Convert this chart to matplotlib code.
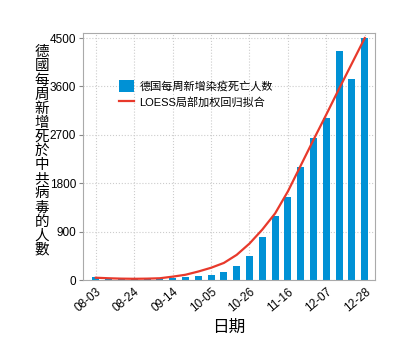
import numpy as np
import matplotlib.pyplot as plt

plt.rcParams['font.family'] = ['Liberation Sans', 'Noto Sans CJK TC', 'DejaVu Sans']

dates = ['08-03', '08-10', '08-17', '08-24', '08-31', '09-07', '09-14',
         '09-21', '09-28', '10-05', '10-12', '10-19', '10-26', '11-02',
         '11-09', '11-16', '11-23', '11-30', '12-07', '12-14', '12-21', '12-28']
deaths = [56, 30, 30, 30, 30, 30, 43, 65, 75, 90, 160, 260, 447, 807,
          1198, 1540, 2104, 2650, 3017, 4264, 3730, 4500]
loess = [45, 35, 28, 25, 28, 35, 65, 100, 160, 230, 320, 470, 680, 940,
         1240, 1650, 2130, 2610, 3080, 3560, 4030, 4500]

bar_label = '德国每周新增染疫死亡人数'
line_label = 'LOESS局部加权回归拟合'
ylabel = '德國每周新增死於中共病毒的人數'

fig = plt.figure(figsize=(4, 3.48), dpi=100)
ax = fig.add_axes([0.2075, 0.195, 0.73, 0.71])

x = np.arange(len(dates))
bars = ax.bar(x, deaths, width=0.55, color='#0091d5', label=bar_label, zorder=2)
line, = ax.plot(x, loess, color='#e8392b', lw=1.6, label=line_label, zorder=3)

ax.set_xlim(-1, 21.8)
ax.set_ylim(0, 4593)
ax.set_yticks(np.arange(0, 4501, 900))
ax.set_xticks(x[::3])
ax.set_xticklabels(dates[::3], rotation=40, ha='right', rotation_mode='anchor')
ax.tick_params(axis='x', labelsize=8.5, direction='in', length=2, color='#888888', pad=4)
ax.tick_params(axis='y', labelsize=8.5, length=3, color='#888888', pad=2)
ax.grid(True, ls=':', color='#cccccc', lw=0.8, zorder=0)
for s in ax.spines.values():
    s.set_color('#aaaaaa')
    s.set_linewidth(0.8)

ax.set_xlabel('日期', fontsize=12, labelpad=4)
fig.text(0.105, 0.566, '\n'.join(ylabel), fontsize=10.5, ha='center', va='center',
         linespacing=1.01, family=['Noto Sans CJK TC'], weight='medium')

ax.legend([bars, line], [bar_label, line_label], loc='upper left',
          bbox_to_anchor=(0.09, 0.85), frameon=False,
          fontsize=8, handlelength=1.3, handleheight=1.2,
          handletextpad=0.5, labelspacing=0.4)

fig.savefig('out.png', dpi=100)
